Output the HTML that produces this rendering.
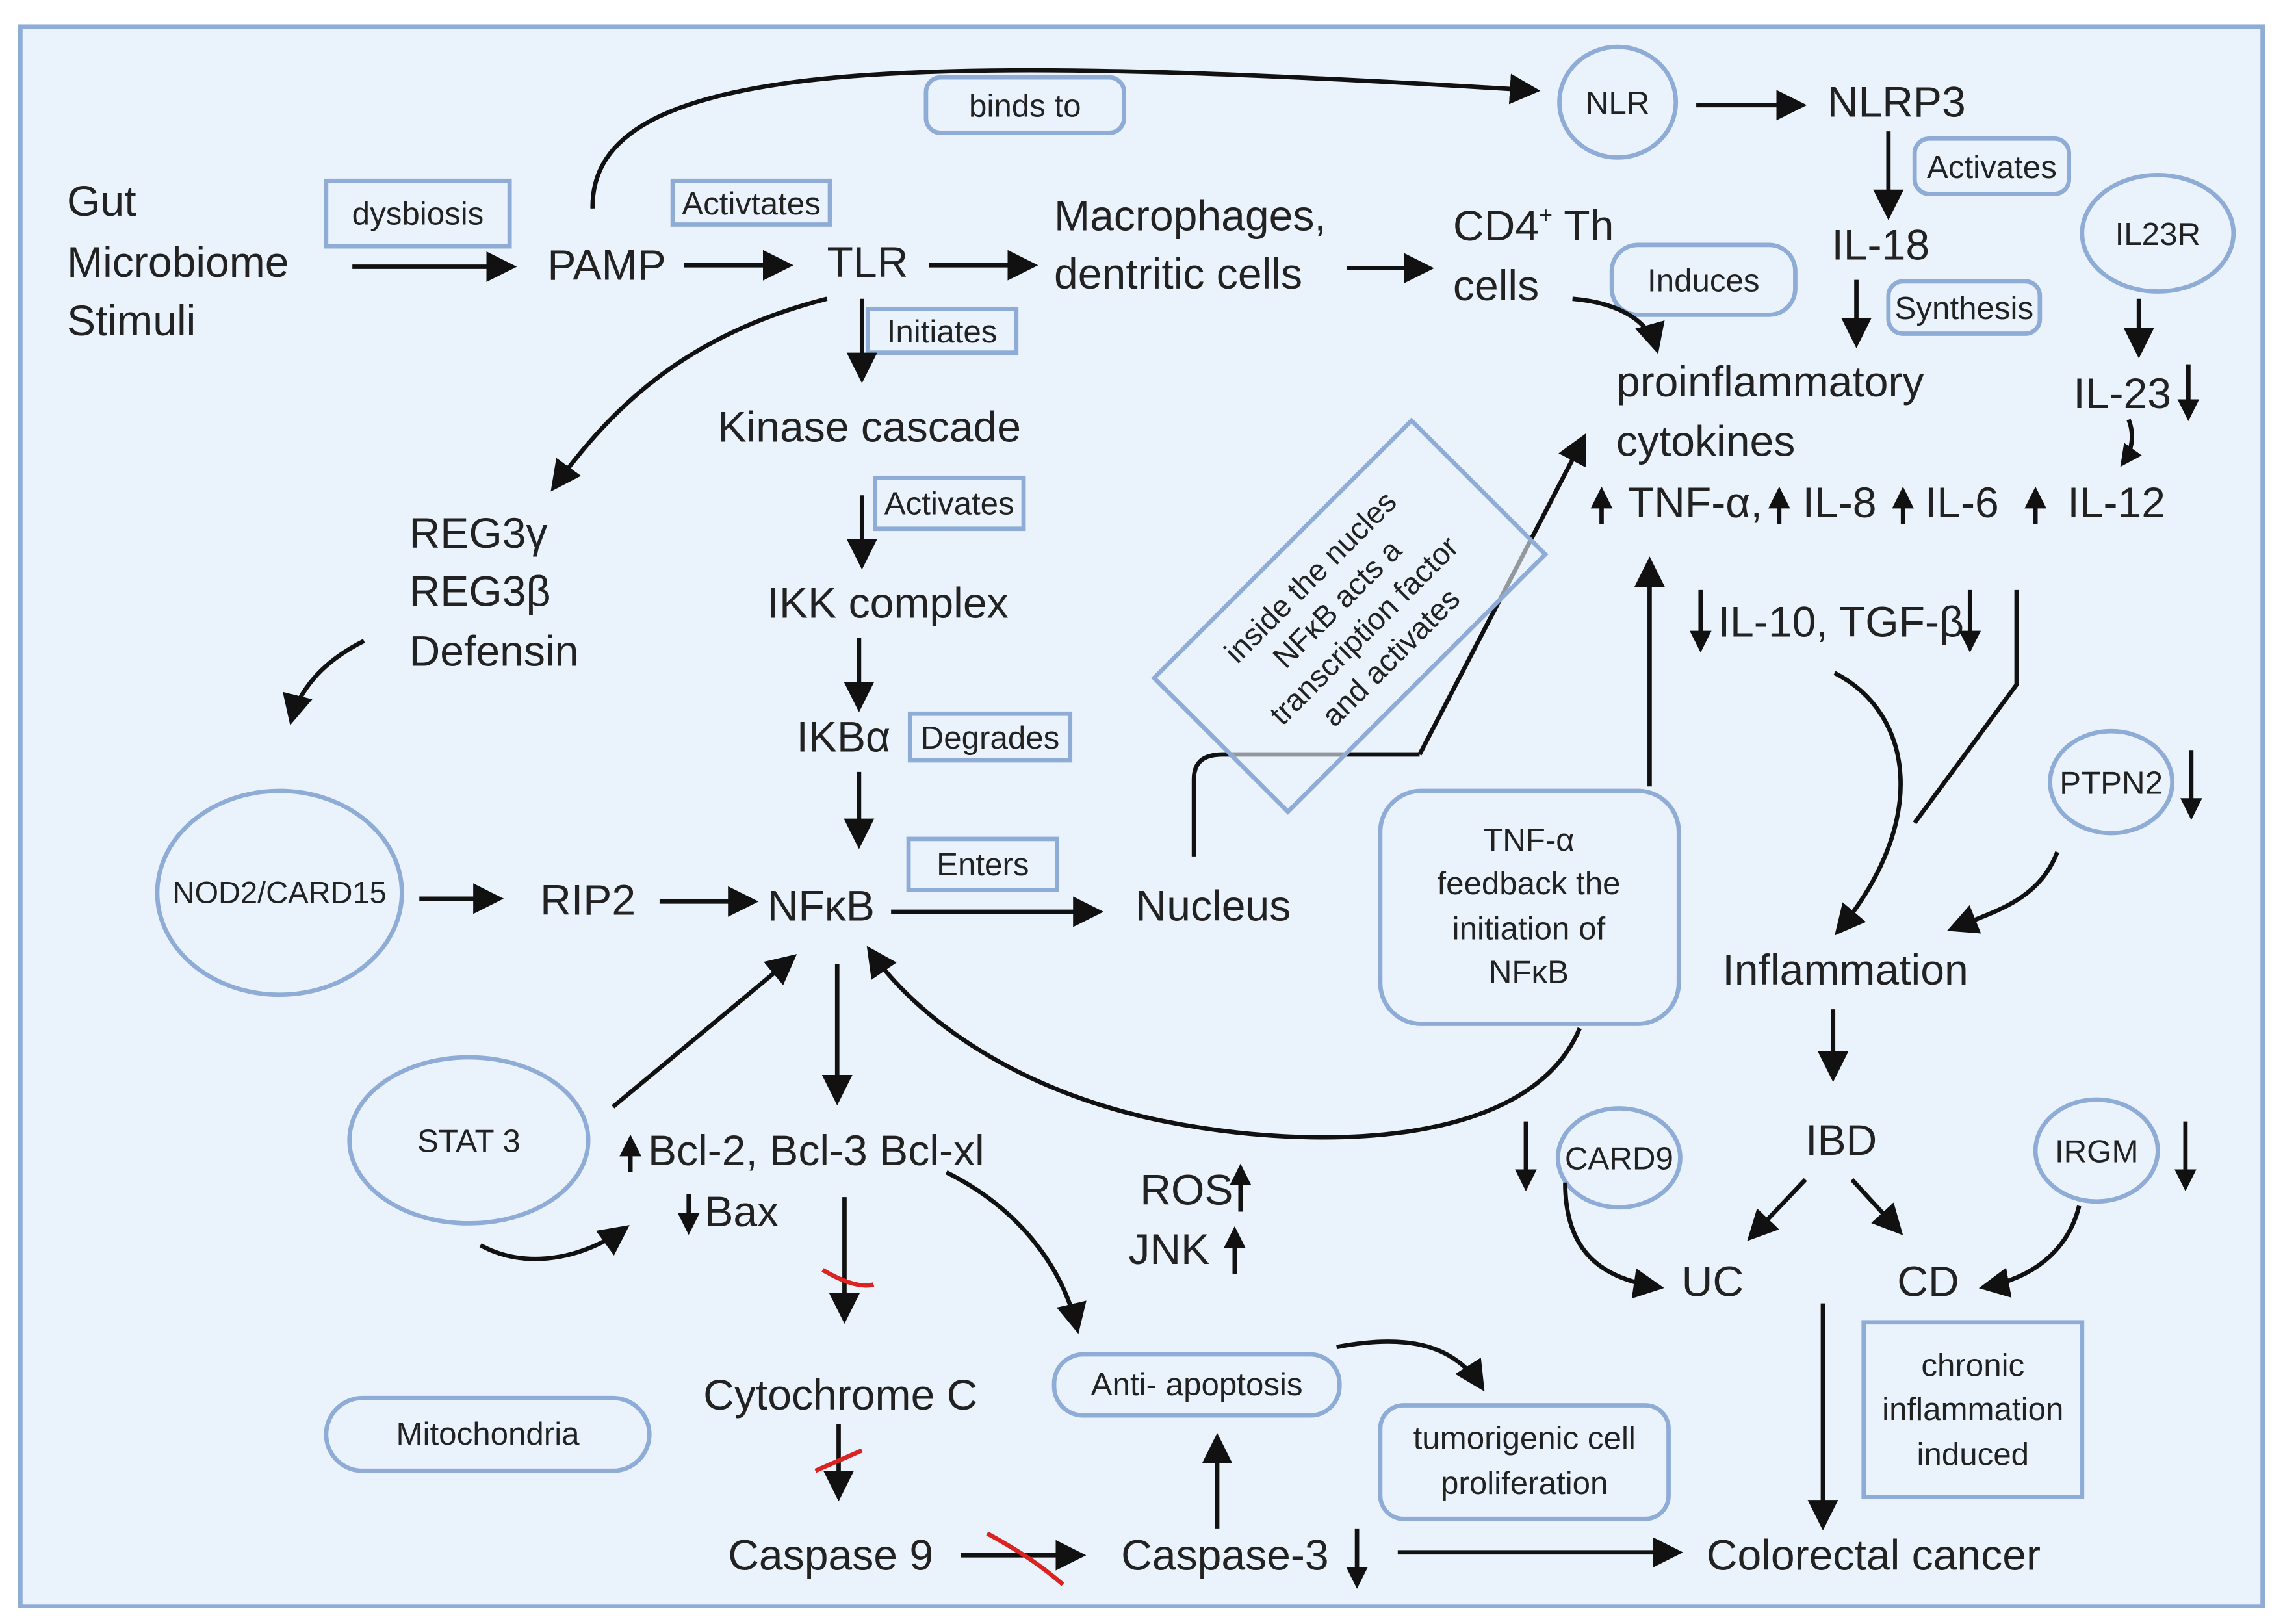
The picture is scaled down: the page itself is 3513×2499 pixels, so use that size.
<!DOCTYPE html>
<html><head><meta charset="utf-8"><style>
html,body{margin:0;padding:0;background:#fff;}
svg{display:block;}
text{font-family:"Liberation Sans","DejaVu Sans",sans-serif;fill:#222;}
.t{font-size:29.5px;}
.s{font-size:22px;}
.bx{fill:#eaf3fc;stroke:#8eacd6;stroke-width:3;}
.a{stroke:#111;stroke-width:3;fill:none;marker-end:url(#ah);}
.b{stroke:#111;stroke-width:3;fill:none;marker-end:url(#ahs);}
.l{stroke:#111;stroke-width:3;fill:none;}
.r{stroke:#d22;stroke-width:3;fill:none;}
</style></head><body>
<svg width="3513" height="2499" viewBox="0 0 1568 1115" xmlns="http://www.w3.org/2000/svg">
<defs><marker id="ah" markerWidth="8" markerHeight="8" refX="6" refY="4" orient="auto" markerUnits="strokeWidth"><path d="M0,0.5 L7,4 L0,7.5 z" fill="#111"/></marker>
<marker id="ahs" markerWidth="6" markerHeight="6" refX="4" refY="3" orient="auto" markerUnits="strokeWidth"><path d="M0,0.5 L5,3 L0,5.5 z" fill="#111"/></marker></defs>
<rect x="0" y="0" width="1568" height="1115" fill="#fff"/>
<rect x="14" y="18" width="1540" height="1085" fill="#eaf2fb" stroke="#8eacd6" stroke-width="3"/>

<text class="t" x="46" y="148">Gut</text>
<text class="t" x="46" y="190">Microbiome</text>
<text class="t" x="46" y="230">Stimuli</text>
<rect class="bx" x="224" y="124" width="126" height="45"/><text class="s" x="287" y="154" text-anchor="middle">dysbiosis</text>
<path class="a" d="M242,183 L352,183"/>
<text class="t" x="376" y="192">PAMP</text>
<path class="a" d="M470,182 L542,182"/>
<rect class="bx" x="462" y="124" width="108" height="30"/><text class="s" x="516" y="147" text-anchor="middle">Activtates</text>
<text class="t" x="568" y="190">TLR</text>
<path class="a" d="M638,182 L710,182"/>
<text class="t" x="724" y="158">Macrophages,</text>
<text class="t" x="724" y="198">dentritic cells</text>
<path class="a" d="M925,184 L982,184"/>
<text class="t" x="998" y="165">CD4<tspan font-size="16" dy="-12">+</tspan><tspan dy="12"> Th</tspan></text>
<text class="t" x="998" y="206">cells</text>
<rect class="bx" x="1107" y="168" width="126" height="48" rx="18"/><text class="s" x="1170" y="200" text-anchor="middle">Induces</text>
<path class="a" d="M407,143 C405,40 620,35 1055,62"/>
<rect class="bx" x="636" y="53" width="136" height="38" rx="10"/><text class="s" x="704" y="80" text-anchor="middle">binds to</text>
<ellipse class="bx" cx="1111" cy="70" rx="40" ry="38"/><text class="s" x="1111" y="78" text-anchor="middle">NLR</text>
<path class="a" d="M1165,72 L1238,72"/>
<text class="t" x="1255" y="80">NLRP3</text>
<path class="a" d="M1297,90 L1297,148"/>
<rect class="bx" x="1315" y="95" width="106" height="38" rx="10"/><text class="s" x="1368" y="122" text-anchor="middle">Activates</text>
<text class="t" x="1258" y="178">IL-18</text>
<path class="a" d="M1275,192 L1275,236"/>
<rect class="bx" x="1297" y="193" width="104" height="36" rx="10"/><text class="s" x="1349" y="219" text-anchor="middle">Synthesis</text>
<ellipse class="bx" cx="1482" cy="160" rx="52" ry="40"/><text class="s" x="1482" y="168" text-anchor="middle">IL23R</text>
<path class="a" d="M1469,205 L1469,243"/>
<text class="t" x="1424" y="280">IL-23</text>
<path class="b" d="M1503,250 L1503,286"/>
<path class="b" d="M1462,288 Q1468,304 1458,318"/>
<text class="t" x="1110" y="272">proinflammatory</text>
<text class="t" x="1110" y="313">cytokines</text>
<path class="a" d="M1080,205 C1115,208 1133,222 1138,240"/>
<path class="b" d="M1100,360 L1100,337"/><text class="t" x="1118" y="355">TNF-α,</text>
<path class="b" d="M1222,360 L1222,337"/><text class="t" x="1238" y="355">IL-8</text>
<path class="b" d="M1307,360 L1307,337"/><text class="t" x="1322" y="355">IL-6</text>
<path class="b" d="M1398,360 L1398,337"/><text class="t" x="1420" y="355">IL-12</text>
<path class="b" d="M1168,405 L1168,445"/><text class="t" x="1180" y="437">IL-10, TGF-β</text>
<path class="b" d="M1353,405 L1353,445"/>
<path class="a" d="M1260,462 C1315,490 1325,565 1262,640"/>
<path class="l" d="M1385,405 L1385,470 L1315,565"/>
<ellipse class="bx" cx="1450" cy="537" rx="42" ry="35"/><text class="s" x="1450" y="545" text-anchor="middle">PTPN2</text>
<path class="b" d="M1505,515 L1505,560"/>
<path class="a" d="M1413,585 C1400,618 1372,625 1340,638"/>
<text class="t" x="1183" y="676">Inflammation</text>
<path class="a" d="M1259,693 L1259,740"/>
<text class="t" x="1240" y="793">IBD</text>
<path class="a" d="M1240,810 L1202,850"/>
<path class="a" d="M1272,810 L1305,846"/>
<text class="t" x="1155" y="890">UC</text>
<text class="t" x="1303" y="890">CD</text>
<ellipse class="bx" cx="1440" cy="790" rx="42" ry="35"/><text class="s" x="1440" y="798" text-anchor="middle">IRGM</text>
<path class="b" d="M1501,770 L1501,815"/>
<path class="a" d="M1428,828 C1420,860 1395,878 1362,884"/>
<ellipse class="bx" cx="1112" cy="795" rx="42" ry="34"/><text class="s" x="1112" y="803" text-anchor="middle">CARD9</text>
<path class="b" d="M1048,770 L1048,815"/>
<path class="a" d="M1075,812 C1075,860 1100,878 1140,884"/>
<rect class="bx" x="1280" y="908" width="150" height="120"/>
<text class="s" x="1355" y="945" text-anchor="middle">chronic</text>
<text class="s" x="1355" y="975" text-anchor="middle">inflammation</text>
<text class="s" x="1355" y="1006" text-anchor="middle">induced</text>
<path class="a" d="M1252,895 L1252,1048"/>
<text class="t" x="1172" y="1078">Colorectal cancer</text>

<path class="a" d="M568,205 C470,230 420,280 380,335"/>
<rect class="bx" x="596" y="212" width="102" height="30"/><text class="s" x="647" y="235" text-anchor="middle">Initiates</text>
<path class="a" d="M592,205 L592,260"/>
<text class="t" x="493" y="303">Kinase cascade</text>
<rect class="bx" x="601" y="328" width="102" height="35"/><text class="s" x="652" y="353" text-anchor="middle">Activates</text>
<path class="a" d="M592,340 L592,388"/>
<text class="t" x="527" y="424">IKK complex</text>
<path class="a" d="M590,438 L590,486"/>
<text class="t" x="547" y="516">IKBα</text>
<rect class="bx" x="625" y="490" width="110" height="32"/><text class="s" x="680" y="514" text-anchor="middle">Degrades</text>
<path class="a" d="M590,530 L590,580"/>
<text class="t" x="281" y="376">REG3γ</text>
<text class="t" x="281" y="416">REG3β</text>
<text class="t" x="281" y="457">Defensin</text>
<path class="a" d="M250,440 C220,455 205,475 200,495"/>
<ellipse class="bx" cx="192" cy="613" rx="84" ry="70"/><text x="192" y="620" text-anchor="middle" font-size="21">NOD2/CARD15</text>
<path class="a" d="M288,617 L343,617"/>
<text class="t" x="371" y="628">RIP2</text>
<path class="a" d="M453,619 L518,619"/>
<text class="t" x="527" y="632">NFκB</text>
<rect class="bx" x="624" y="576" width="102" height="35"/><text class="s" x="675" y="601" text-anchor="middle">Enters</text>
<path class="a" d="M612,626 L755,626"/>
<text class="t" x="780" y="632">Nucleus</text>
<path class="l" d="M820,588 L820,535 C820,522 828,518 840,518 L975,518" stroke="#888"/>
<path class="a" d="M975,518 L1088,300"/>
<g transform="rotate(-45 927 423)">
<rect class="bx" x="802" y="358" width="250" height="130" fill-opacity="0.6"/>
<text x="927" y="392" text-anchor="middle" font-size="21">inside the nucles</text>
<text x="927" y="418" text-anchor="middle" font-size="21">NFκB acts a</text>
<text x="927" y="444" text-anchor="middle" font-size="21">transcription factor</text>
<text x="927" y="470" text-anchor="middle" font-size="21">and activates</text>
</g>
<rect class="bx" x="948" y="543" width="205" height="160" rx="28"/>
<text class="s" x="1050" y="584" text-anchor="middle">TNF-α</text>
<text class="s" x="1050" y="614" text-anchor="middle">feedback the</text>
<text class="s" x="1050" y="645" text-anchor="middle">initiation of</text>
<text class="s" x="1050" y="675" text-anchor="middle">NFκB</text>
<path class="a" d="M1133,540 L1133,385"/>
<path class="a" d="M1085,706 C1050,790 900,790 800,770 C700,750 630,700 597,652"/>
<path class="a" d="M575,662 L575,756"/>
<ellipse class="bx" cx="322" cy="783" rx="82" ry="57"/><text class="s" x="322" y="791" text-anchor="middle">STAT 3</text>
<path class="a" d="M421,760 L545,657"/>
<path class="a" d="M330,855 C360,872 400,865 430,843"/>
<path class="b" d="M433,805 L433,782"/><text class="t" x="445" y="800">Bcl-2, Bcl-3 Bcl-xl</text>
<path class="b" d="M473,820 L473,845"/><text class="t" x="484" y="842">Bax</text>
<path class="a" d="M580,822 L580,906"/>
<path class="r" d="M565,872 C575,878 590,885 600,882"/>
<path class="a" d="M650,805 C700,830 730,870 740,913"/>
<text class="t" x="783" y="827">ROS</text><path class="b" d="M852,832 L852,802"/>
<text class="t" x="775" y="868">JNK</text><path class="b" d="M848,875 L848,845"/>
<text class="t" x="483" y="968">Cytochrome C</text>
<rect class="bx" x="224" y="960" width="222" height="50" rx="25"/><text class="s" x="335" y="992" text-anchor="middle">Mitochondria</text>
<path class="a" d="M576,978 L576,1028"/>
<path class="r" d="M560,1010 L592,996"/>
<text class="t" x="500" y="1078">Caspase 9</text>
<path class="a" d="M660,1068 L743,1068"/>
<path class="r" d="M678,1053 C700,1065 715,1075 730,1088"/>
<text class="t" x="770" y="1078">Caspase-3</text>
<path class="b" d="M932,1050 L932,1088"/>
<path class="a" d="M960,1066 L1153,1066"/>
<path class="a" d="M836,1050 L836,987"/>
<rect class="bx" x="724" y="930" width="196" height="42" rx="20"/><text class="s" x="822" y="958" text-anchor="middle">Anti- apoptosis</text>
<path class="a" d="M918,925 C970,915 1000,925 1018,953"/>
<rect class="bx" x="948" y="965" width="198" height="78" rx="16"/>
<text class="s" x="1047" y="995" text-anchor="middle">tumorigenic cell</text>
<text class="s" x="1047" y="1026" text-anchor="middle">proliferation</text>
</svg>
</body></html>
